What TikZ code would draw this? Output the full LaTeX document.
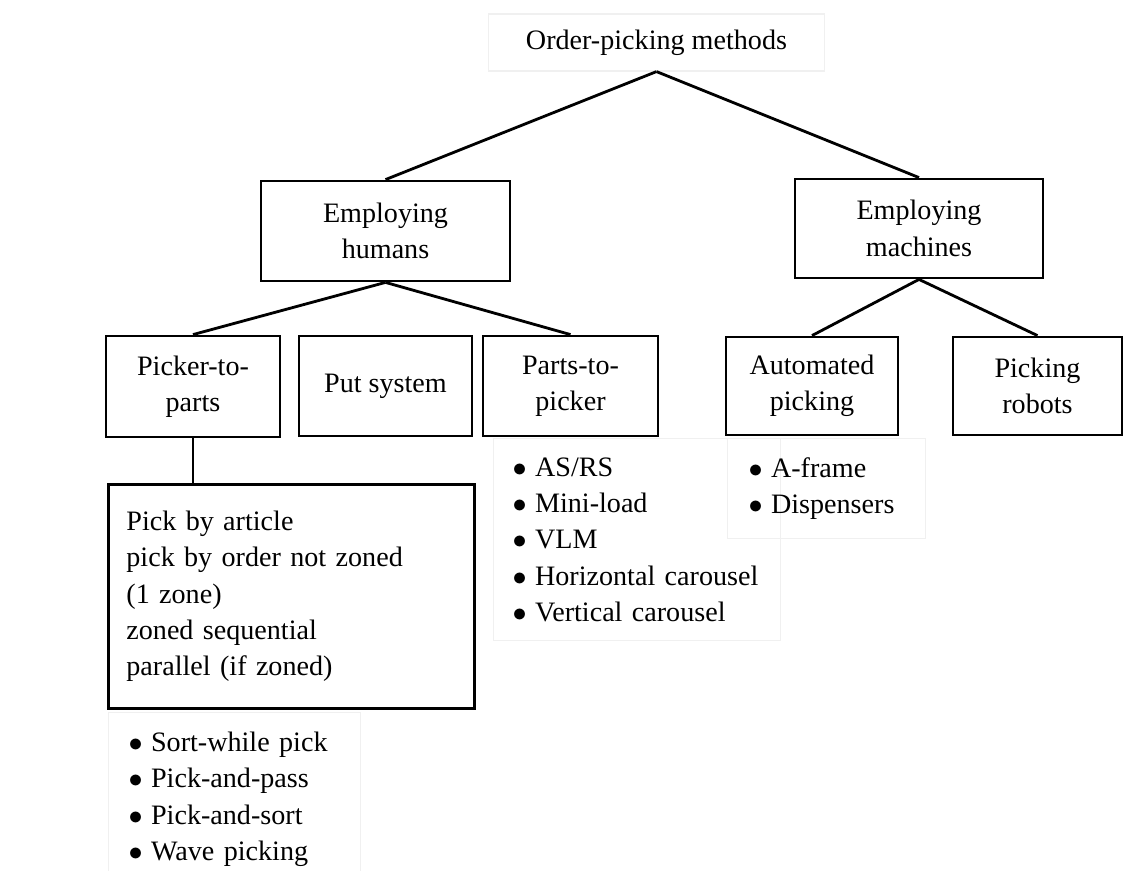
\documentclass[tikz,border=0pt]{standalone}
\usepackage{fontspec}
\setmainfont{Liberation Serif}
\usetikzlibrary{positioning}

\tikzset{
  level box/.style={draw, line width=1.2pt, align=center, inner sep=0pt},
  list box/.style={draw=black!6, line width=0.5pt, anchor=north west, align=left, inner ysep=0pt},
  branch/.style={line width=1.2pt},
}
\newcommand{\itm}{$\bullet$\hspace{0.3em}}

\begin{document}
\begin{tikzpicture}[x=0.015cm, y=-0.015cm, font=\fontsize{12}{15.5}\selectfont]
\useasboundingbox (0,0) rectangle (1125,871);
% top of the tree
\node[list box, anchor=center, align=center, inner sep=0pt, minimum width=5.05cm, minimum height=0.855cm] (root) at (656.5,42.5) {Order-picking methods};

% who does the picking
\node[level box, minimum width=3.735cm, minimum height=1.5cm] (humans) at (385.5,231) {Employing\\humans};
\node[level box, minimum width=3.72cm, minimum height=1.485cm] (machines) at (919,228.5) {Employing\\machines};

% systems
\node[level box, minimum width=2.61cm, minimum height=1.515cm] (picker) at (193,386.5) {Picker-to-\\parts};
\node[level box, minimum width=2.595cm, minimum height=1.5cm] (put) at (385.5,386) {Put system};
\node[level box, minimum width=2.625cm, minimum height=1.5cm] (parts) at (570.5,386) {Parts-to-\\picker};
\node[level box, minimum width=2.58cm, minimum height=1.47cm] (auto) at (812,386) {Automated\\picking};
\node[level box, minimum width=2.535cm, minimum height=1.47cm] (robots) at (1037.5,386) {Picking\\robots};

% picker-to-parts variants
\node[level box, anchor=north west, align=left, inner xsep=0.27cm, text width=4.95cm, minimum height=3.36cm] (variants) at (107,483) {Pick by article\\pick by order not zoned\\(1 zone)\\zoned sequential\\parallel (if zoned)};

% lists under the boxes
\node[list box, inner xsep=0.285cm, text width=3.735cm, minimum height=3.03cm] (partslist) at (493,438) {\itm AS/RS\\\itm Mini-load\\\itm VLM\\\itm Horizontal carousel\\\itm Vertical carousel};
\node[list box, inner xsep=0.315cm, text width=2.34cm, minimum height=1.5cm] (autolist) at (727,438) {\itm A-frame\\\itm Dispensers};
\node[list box, inner xsep=0.3cm, text width=3.18cm, minimum height=2.6cm] (sortlist) at (108,712) {\itm Sort-while pick\\\itm Pick-and-pass\\\itm Pick-and-sort\\\itm Wave picking};

% branches
\draw[branch] (root.south) -- (humans.north);
\draw[branch] (root.south) -- (machines.north);
\draw[branch] (humans.south) -- (picker.north);
\draw[branch] (humans.south) -- (parts.north);
\draw[branch] (machines.south) -- (auto.north);
\draw[branch] (machines.south) -- (robots.north);
\draw[branch] (picker.south) -- (picker.south |- variants.north);
\end{tikzpicture}
\end{document}
